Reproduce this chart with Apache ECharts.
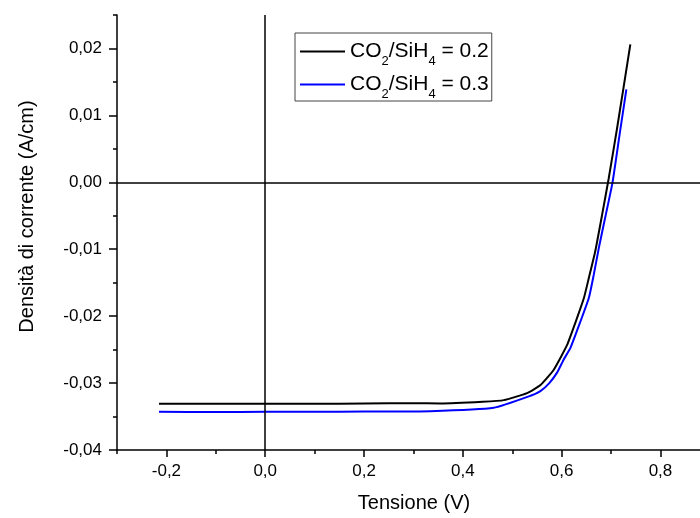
<!DOCTYPE html>
<html>
<head>
<meta charset="utf-8">
<script src="https://cdn.jsdelivr.net/npm/echarts@6/dist/echarts.min.js"></script>
<style>
  html, body { margin: 0; background: #fff; }
  #main { width: 700px; height: 518px; }
</style>
</head>
<body>
<div id="main"></div>
<script>
// dati
var seriesNames = ['CO2/SiH4 = 0.2', 'CO2/SiH4 = 0.3'];

var tensione02 = [-0.215, -0.1, 0.0, 0.1, 0.2, 0.3, 0.354, 0.44, 0.483, 0.53, 0.557, 0.584, 0.611, 0.631, 0.645, 0.655, 0.668, 0.682, 0.695, 0.712, 0.739];
var corrente02 = [-0.0331, -0.0331, -0.0331, -0.0331, -0.03305, -0.0330, -0.03305, -0.0328, -0.03255, -0.0315, -0.0303, -0.0280, -0.0243, -0.0203, -0.0173, -0.0143, -0.0103, -0.0048, 0.0005, 0.0080, 0.0206];

var tensione03 = [-0.215, -0.1, 0.0, 0.1, 0.2, 0.334, 0.4625, 0.537, 0.557, 0.575, 0.591, 0.604, 0.618, 0.638, 0.655, 0.665, 0.675, 0.690, 0.703, 0.717, 0.731];
var corrente03 = [-0.0343, -0.03432, -0.0343, -0.0343, -0.03425, -0.0342, -0.0337, -0.0319, -0.0312, -0.0300, -0.0284, -0.0265, -0.0247, -0.0208, -0.0173, -0.0138, -0.0099, -0.0046, 0.0, 0.0070, 0.0139];

var xMajorTicks = [-0.2, 0.0, 0.2, 0.4, 0.6, 0.8];
var xMinorTicks = [-0.3, -0.1, 0.1, 0.3, 0.5, 0.7];
var yMajorTicks = [-0.04, -0.03, -0.02, -0.01, 0.0, 0.01, 0.02];
var yMinorTicks = [-0.035, -0.025, -0.015, -0.005, 0.005, 0.015, 0.025];

function zip(xs, ys) {
    return xs.map(function (x, i) { return [x, ys[i]]; });
}
function virgola(v, d) {
    return v.toFixed(d).replace('.', ',');
}

var font = 'Liberation Sans, Arial, sans-serif';
var myChart = echarts.init(document.getElementById('main'));

myChart.setOption({
    animation: false,
    textStyle: { fontFamily: font, color: '#000' },
    grid: { left: 117, right: 0, top: 15, bottom: 65 },
    legend: {
        orient: 'vertical',
        left: 295,
        top: 33,
        padding: [8, 3, 0, 5],
        itemGap: 6,
        itemWidth: 45,
        itemHeight: 2,
        icon: 'rect',
        borderColor: '#444',
        borderWidth: 1,
        data: seriesNames,
        formatter: function (name) {
            var v = name.split('= ')[1];
            return '{n|CO}{s|2}{n|/SiH}{s|4}{n| = ' + v + '}';
        },
        textStyle: {
            rich: {
                n: { fontSize: 21, lineHeight: 33, fontFamily: font, color: '#000' },
                s: { fontSize: 13, lineHeight: 9, verticalAlign: 'bottom', fontFamily: font, color: '#000' }
            }
        }
    },
    xAxis: [{
        type: 'value',
        min: -0.3,
        max: 0.88,
        name: 'Tensione (V)',
        nameLocation: 'middle',
        nameGap: 43,
        nameTextStyle: { fontSize: 20, color: '#000', padding: [0, 0, 0, 11] },
        splitLine: { show: false },
        axisLine: { onZero: false, lineStyle: { color: '#000', width: 1.5 } },
        axisTick: { customValues: xMajorTicks, length: 7, lineStyle: { color: '#000', width: 1.5 } },
        axisLabel: {
            customValues: xMajorTicks,
            fontSize: 17,
            color: '#000',
            margin: 13,
            formatter: function (v) { return virgola(v, 1); }
        }
    }, {
        type: 'value',
        min: -0.3,
        max: 0.88,
        position: 'bottom',
        splitLine: { show: false },
        axisLine: { show: false, onZero: false },
        axisTick: { customValues: xMinorTicks, length: 4, lineStyle: { color: '#000', width: 1.5 } },
        axisLabel: { show: false }
    }],
    yAxis: [{
        type: 'value',
        min: -0.04,
        max: 0.025,
        name: 'Densità di corrente (A/cm)',
        nameLocation: 'middle',
        nameGap: 80,
        nameTextStyle: { fontSize: 20, color: '#000', padding: [0, 0, 0, 32] },
        splitLine: { show: false },
        axisLine: { onZero: false, lineStyle: { color: '#000', width: 1.5 } },
        axisTick: { customValues: yMajorTicks, length: 8, lineStyle: { color: '#000', width: 1.5 } },
        axisLabel: {
            customValues: yMajorTicks,
            fontSize: 17,
            color: '#000',
            margin: 15,
            formatter: function (v) { return virgola(v, 2); }
        }
    }, {
        type: 'value',
        min: -0.04,
        max: 0.025,
        position: 'left',
        splitLine: { show: false },
        axisLine: { show: false, onZero: false },
        axisTick: { customValues: yMinorTicks, length: 4, lineStyle: { color: '#000', width: 1.5 } },
        axisLabel: { show: false }
    }],
    series: [{
        name: seriesNames[0],
        type: 'line',
        symbol: 'none',
        smooth: 0.15,
        lineStyle: { color: '#000', width: 2 },
        itemStyle: { color: '#000' },
        data: zip(tensione02, corrente02),
        markLine: {
            silent: true,
            symbol: 'none',
            label: { show: false },
            lineStyle: { color: '#000', width: 1.5, type: 'solid' },
            data: [{ xAxis: 0 }, { yAxis: 0 }]
        }
    }, {
        name: seriesNames[1],
        type: 'line',
        symbol: 'none',
        smooth: 0.15,
        lineStyle: { color: '#0000ff', width: 2 },
        itemStyle: { color: '#0000ff' },
        data: zip(tensione03, corrente03)
    }]
});
</script>
</body>
</html>
